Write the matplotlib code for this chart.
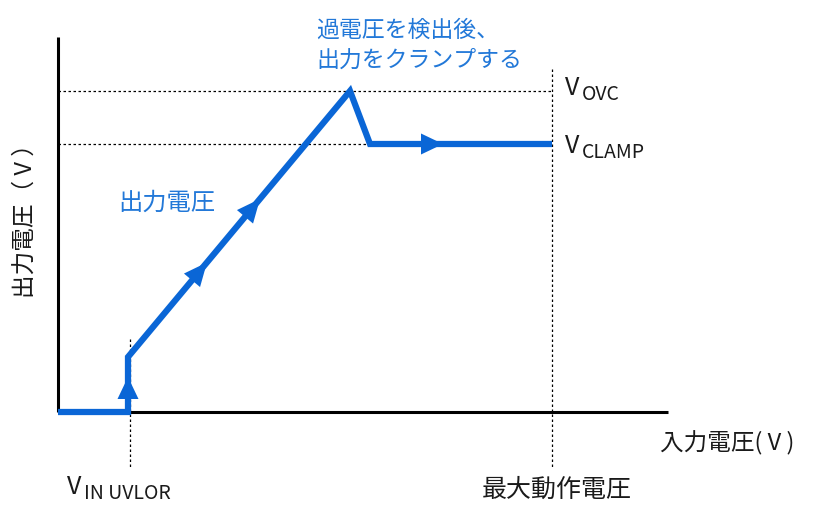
import matplotlib
matplotlib.use("Agg")
import matplotlib.pyplot as plt
import numpy as np

plt.rcParams['font.family'] = ['Noto Sans CJK JP', 'DejaVu Sans']

# diagram coordinates (arbitrary units; y grows downward like the drawing)
curve_x = [58, 128, 128, 350, 370, 552]
curve_y = [413, 413, 358, 92, 145, 145]
arrow_tails = [(128, 400), (192, 281.3), (245, 217.8), (421, 145)]
arrow_tips = [(128, 378), (207, 263.4), (260, 199.9), (443, 145)]
v_uvlo_x = 130
v_max_x = 552
v_ovc_y = 92
v_clamp_y = 145
axis_origin = (58, 413)
axis_end = (668, 38)

blue = '#0a66d6'
tblue = '#2278d8'
tcol = '#1a1a1a'

fig = plt.figure(figsize=(8.19, 5.06), dpi=100)
ax = fig.add_axes([0, 0, 1, 1])
ax.set_xlim(0, 819)
ax.set_ylim(506, 0)
ax.axis('off')

# axes
ax.plot([axis_origin[0], axis_origin[0]], [axis_origin[1], axis_end[1]], color='black', lw=2.2, solid_capstyle='butt')
ax.plot([axis_origin[0], axis_end[0]], [axis_origin[1], axis_origin[1]], color='black', lw=2.2, solid_capstyle='butt')

# dashed guides
dkw = dict(color='black', lw=0.9, ls=(0, (2, 2)))
ax.plot([axis_origin[0], v_max_x], [v_ovc_y, v_ovc_y], **dkw)
ax.plot([axis_origin[0], v_max_x], [v_clamp_y, v_clamp_y], **dkw)
ax.plot([v_max_x, v_max_x], [70, 468], **dkw)
ax.plot([v_uvlo_x, v_uvlo_x], [340, 468], **dkw)

# curve
ax.plot(curve_x, curve_y, color=blue, lw=4.5, solid_joinstyle='miter', solid_capstyle='butt', zorder=5)

# arrow heads (filled triangles from tail->tip direction)
head_w = 21
for (tx, ty), (hx, hy) in zip(arrow_tails, arrow_tips):
    d = np.array([hx - tx, hy - ty], dtype=float)
    L = np.hypot(*d)
    u = d / L
    n = np.array([-u[1], u[0]])
    base = np.array([tx, ty])
    pts = np.array([[hx, hy], base + n * head_w / 2, base - n * head_w / 2])
    ax.fill(pts[:, 0], pts[:, 1], color=blue, lw=0, zorder=6)

# texts
ax.text(316, 30, '過電圧を検出後、', color=tblue, fontsize=16.5, va='center', ha='left')
ax.text(316, 60, '出力をクランプする', color=tblue, fontsize=16.5, va='center', ha='left')
ax.text(118, 203, '出力電圧', color=tblue, fontsize=17.5, va='center', ha='left')

def vlabel(x, y, sub, subx):
    ax.text(x, y, 'V', fontsize=18, va='baseline', ha='left', color=tcol)
    ax.text(subx, y + 5, sub, fontsize=14, va='baseline', ha='left', color=tcol)

vlabel(565, 95, 'OVC', 582)
vlabel(565, 153, 'CLAMP', 582)
vlabel(67, 494, 'IN UVLOR', 84)

ax.text(660, 443, '入力電圧( V )', fontsize=17, va='center', ha='left', color=tcol)
ax.text(482, 490, '最大動作電圧', fontsize=18, va='center', ha='left', color=tcol)
ax.text(25, 215, '出力電圧（ V ）', fontsize=17, va='center', ha='center', rotation=90, color=tcol)

fig.savefig('out.png', dpi=100)
